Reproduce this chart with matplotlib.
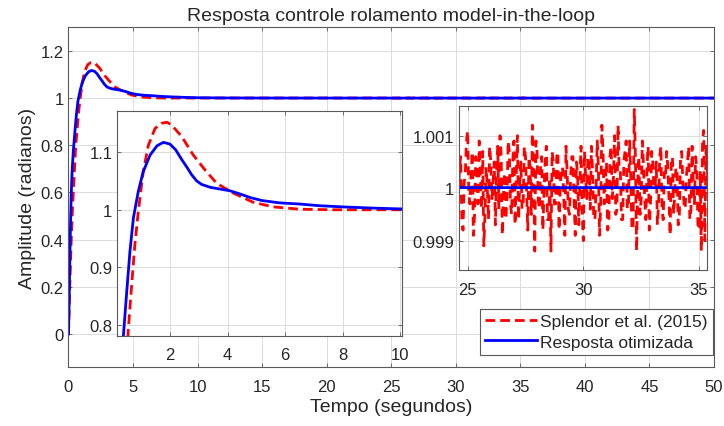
import numpy as np
import matplotlib
matplotlib.use("Agg")
import matplotlib.pyplot as plt

plt.rcParams["font.family"] = ["Liberation Sans", "DejaVu Sans"]

# step response, optimised controller (blue)
t_blue = [0, 0.05, 0.1, 0.15, 0.2, 0.25, 0.3, 0.38, 0.5, 0.61, 0.73, 0.9, 1.07,
          1.31, 1.55, 1.77, 2.0, 2.2, 2.41, 2.6, 2.75, 2.93, 3.1, 3.4, 3.62, 3.85,
          4.08, 4.4, 4.8, 5.2, 5.8, 6.5, 7.2, 8.0, 9.0, 10.0, 12, 15, 20, 25, 50]
y_blue = [0, 0.13, 0.30, 0.45, 0.57, 0.65, 0.71, 0.78, 0.859, 0.928, 0.986, 1.032,
          1.066, 1.095, 1.111, 1.117, 1.114, 1.104, 1.087, 1.073, 1.061, 1.050,
          1.044, 1.039, 1.037, 1.035, 1.033, 1.028, 1.021, 1.016, 1.012, 1.010,
          1.007, 1.005, 1.003, 1.0015, 1.0006, 1.0002, 1.00005, 1.00001, 1.00001]

# step response, Splendor et al. (red) - transient part
t_red = [0, 0.1, 0.2, 0.3, 0.4, 0.48, 0.55, 0.67, 0.78, 0.9, 1.07, 1.25, 1.48,
         1.7, 1.89, 2.06, 2.41, 2.81, 3.22, 3.62, 4.2, 4.89, 5.59, 6.51, 7.67,
         9.0, 10.0, 12, 15, 20]
y_red = [0, 0.2, 0.38, 0.52, 0.63, 0.72, 0.79, 0.870, 0.939, 0.997, 1.066, 1.112,
         1.141, 1.150, 1.152, 1.147, 1.127, 1.095, 1.069, 1.046, 1.029, 1.013,
         1.005, 1.001, 1.0, 1.0, 1.0, 1.0, 1.0, 1.0]

# red steady state noise (units of 1e-4 rad), sampled every 0.05 s from 24.6 s
# noise_e4 -> samples at 24.6, 24.7, ... ; noise_mid_e4 -> samples at 24.65, 24.75, ...
noise_t = np.round(np.arange(24.6, 35.42, 0.05), 2)
noise_e4 = [-2, 6, -8, 3, 11, -3, 7, -5, 2, 9, -4, -11, 4, -6, 5, 1, -7, 8, 10, -9,
            3, -2, 7, -5, 9, 2, -6, 5, -3, 6, -8, 4, 12, -12, 7, -4, 6, -1, 8, -6,
            -12, 5, -3, 7, 0, 4, -9, 3, -5, 6, -2, 5, -7, 8, -10, 2, 6, -4, 3, -6,
            9, -9, 12, -3, 5, -7, 8, 2, -5, 12, 3, -6, 7, -4, 9, -8, 15, -12, 6, -2,
            4, -6, 8, -3, 5, 0, -7, 6, -4, 3, 7, -2, 5, -5, 4, -7, 6, 1, -4, 5,
            -6, 8, -3, 4, -8, -12, 11, 8, -2]
noise_mid_e4 = [4, -6, 1, 9, -1, 3, -9, 6, -3, 2, 7, -5, 0, 8, -2, 5, 3, -4, 6, -1,
                -6, 9, -3, 5, -7, 10, 1, -4, 8, -1, 6, -5, 3, 9, -2, 4, -8, 5, -6, 2,
                7, -3, 6, -8, 4, -1, 8, -4, 2, 6, -9, 3, 1, -5, 7, -2, 5, 8, -6, 0,
                4, -3, 7, 1, -8, 6, -2, 10, -4, 3, -6, 5, 9, -3, 2, -7, 6, 1, -5, 9,
                -2, 4, -8, 7, 0, 5, -3, 8, -6, 2, 4, -9, 6, -1, 3, -5, 7, -3, 2, 8,
                -4, 1, 6, -7, 3, 9, -10, 5]

noise_vals = []
for a, b in zip(noise_e4, noise_mid_e4):
    noise_vals += [a, b]
noise_vals.append(noise_e4[-1])

red_t = list(t_red) + list(noise_t) + [50]
red_y = list(y_red) + [1 + v * 1e-4 for v in noise_vals] + [1.0]

RED = "#ff0000"
BLUE = "#0000ff"
TXT = "#262626"
GRID = "#dcdcdc"
EDGE = "#5a5a5a"


def style(ax, fs=12):
    ax.set_facecolor("white")
    for sp in ax.spines.values():
        sp.set_color(EDGE)
        sp.set_linewidth(0.8)
    ax.tick_params(direction="in", length=3, width=0.6, colors=EDGE,
                   labelcolor=TXT, labelsize=fs, top=True, right=True)
    ax.tick_params(axis="x", pad=8.5)
    ax.grid(True, color=GRID, linewidth=0.7)
    ax.set_axisbelow(True)


def fmt(v):
    return f"{v:g}"


fig = plt.figure(figsize=(7.24, 4.27), dpi=100)

# main axes
ax = fig.add_axes([0.0946, 0.1382, 0.8916, 0.7955])
style(ax)
ax.plot(red_t, red_y, color=RED, lw=2, dashes=(3.5, 1.8), label="Splendor et al. (2015)")
ax.plot(t_blue, y_blue, color=BLUE, lw=2, label="Resposta otimizada")
ax.set_xlim(0, 50)
ax.set_ylim(-0.14, 1.3)
ax.set_xticks(range(0, 51, 5))
yt = [0, 0.2, 0.4, 0.6, 0.8, 1.0, 1.2]
ax.set_yticks(yt)
ax.set_yticklabels([fmt(v) for v in yt])
ax.set_xlabel("Tempo (segundos)", fontsize=14, color=TXT, labelpad=3)
ax.set_ylabel("Amplitude (radianos)", fontsize=14, color=TXT, labelpad=3)
ax.set_title("Resposta controle rolamento model-in-the-loop", fontsize=14,
             color=TXT, pad=5)
leg = ax.legend(loc="lower right", bbox_to_anchor=(0.998, 0.036), borderaxespad=0,
                fontsize=12.5, fancybox=False, framealpha=1, edgecolor=EDGE,
                handlelength=3.0, handletextpad=0.15, labelspacing=0.3,
                borderpad=0.3)
leg.get_frame().set_linewidth(0.8)
for t in leg.get_texts():
    t.set_color(TXT)

# left inset: transient zoom
ax1 = fig.add_axes([0.162, 0.2115, 0.3936, 0.527])
style(ax1)
ax1.plot(red_t, red_y, color=RED, lw=2, dashes=(3.5, 1.8))
ax1.plot(t_blue, y_blue, color=BLUE, lw=2)
ax1.set_xlim(0.17, 10.07)
ax1.set_ylim(0.7815, 1.172)
ax1.set_xticks([2, 4, 6, 8, 10])
yt1 = [0.8, 0.9, 1.0, 1.1]
ax1.set_yticks(yt1)
ax1.set_yticklabels([fmt(v) for v in yt1])

# right inset: steady state zoom
ax2 = fig.add_axes([0.6344, 0.3653, 0.3417, 0.3834])
style(ax2)
ax2.plot(red_t, red_y, color=RED, lw=2, dashes=(3.2, 2.4))
ax2.plot(t_blue, y_blue, color=BLUE, lw=2)
ax2.set_xlim(24.64, 35.33)
ax2.set_ylim(0.99844, 1.00156)
ax2.set_xticks([25, 30, 35])
yt2 = [0.999, 1.0, 1.001]
ax2.set_yticks(yt2)
ax2.set_yticklabels([fmt(v) for v in yt2])

fig.savefig("out.png", dpi=100)
